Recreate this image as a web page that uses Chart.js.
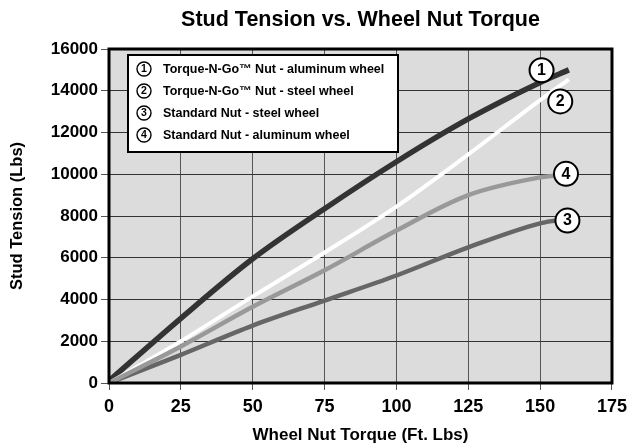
<!DOCTYPE html>
<html>
<head>
<meta charset="utf-8">
<script src="https://cdn.jsdelivr.net/npm/chart.js@4.4.1/dist/chart.umd.min.js"></script>
<style>
  html, body { margin: 0; padding: 0; background: #fff; }
</style>
</head>
<body>
<canvas id="myChart" width="633" height="446"></canvas>
<script>
// torque values (Ft. Lbs)
const torqueLong = [0, 25, 50, 75, 100, 125, 150, 160];
const torqueShort = [0, 25, 50, 75, 100, 125, 150, 156];

// stud tension (Lbs)
const tngAluminum = [100, 3100, 5950, 8350, 10600, 12650, 14400, 15000];
const tngSteel = [0, 2000, 4150, 6250, 8450, 10950, 13550, 14550];
const stdSteel = [0, 1350, 2750, 3950, 5150, 6500, 7650, 7800];
const stdAluminum = [0, 1750, 3650, 5400, 7300, 9000, 9850, 9950];

const chartTitle = "Stud Tension vs. Wheel Nut Torque";
const seriesNames = [
  "Torque-N-Go™ Nut - aluminum wheel",
  "Torque-N-Go™ Nut - steel wheel",
  "Standard Nut - steel wheel",
  "Standard Nut - aluminum wheel",
];

// circled number tags next to the curve ends (data units)
const tagNumbers = ["1", "2", "3", "4"];
const tagTorque = [150.5, 157, 159.5, 159];
const tagTension = [14980, 13490, 7780, 10020];

const FONT = "'Liberation Sans', Arial, Helvetica, sans-serif";

function toPoints(xs, ys) {
  return xs.map((x, i) => ({ x, y: ys[i] }));
}

function drawCircled(ctx, x, y, r, text, fontSize, lw) {
  ctx.beginPath();
  ctx.arc(x, y, r, 0, Math.PI * 2);
  ctx.fillStyle = "#fff";
  ctx.fill();
  ctx.lineWidth = lw;
  ctx.strokeStyle = "#000";
  ctx.stroke();
  ctx.fillStyle = "#000";
  ctx.font = `bold ${fontSize}px ${FONT}`;
  ctx.textAlign = "center";
  ctx.textBaseline = "middle";
  ctx.fillText(text, x, y + 0.5);
}

// plot background, frame, title, legend box and circled tags
const decorPlugin = {
  id: "decor",
  beforeDraw(chart) {
    const { ctx, chartArea: a } = chart;
    ctx.save();
    ctx.fillStyle = "#dcdcdd";
    ctx.fillRect(a.left, a.top, a.right - a.left, a.bottom - a.top);
    // title centred over the plot area
    ctx.fillStyle = "#000";
    ctx.font = `bold 21.5px ${FONT}`;
    ctx.textAlign = "center";
    ctx.textBaseline = "middle";
    ctx.fillText(chartTitle, (a.left + a.right) / 2, 20);
    ctx.restore();
  },
  afterDatasetsDraw(chart) {
    const { ctx, chartArea: a, scales } = chart;
    ctx.save();
    // frame
    ctx.lineWidth = 3;
    ctx.strokeStyle = "#000";
    ctx.strokeRect(a.left, a.top, a.right - a.left, a.bottom - a.top);

    // tags at curve ends
    tagNumbers.forEach((n, i) => {
      const px = scales.x.getPixelForValue(tagTorque[i]);
      const py = scales.y.getPixelForValue(tagTension[i]);
      drawCircled(ctx, px, py, 12, n, 16, 2);
    });

    // legend box
    const bx = a.left + 19;
    const by = a.top + 6;
    const bw = 270;
    const bh = 97;
    ctx.fillStyle = "#fff";
    ctx.fillRect(bx, by, bw, bh);
    ctx.lineWidth = 2;
    ctx.strokeStyle = "#000";
    ctx.strokeRect(bx, by, bw, bh);
    seriesNames.forEach((name, i) => {
      const ry = by + 14 + i * 22;
      drawCircled(ctx, bx + 16, ry, 7, String(i + 1), 10.5, 1.4);
      ctx.fillStyle = "#000";
      ctx.font = `bold 12.5px ${FONT}`;
      ctx.textAlign = "left";
      ctx.textBaseline = "middle";
      ctx.fillText(name, bx + 35, ry + 0.5);
    });
    ctx.restore();
  },
};

function initChart() {
  const ctx = document.getElementById("myChart").getContext("2d");

  return new Chart(ctx, {
    type: "line",
    data: {
      datasets: [
        {
          label: seriesNames[3],
          data: toPoints(torqueShort, stdAluminum),
          borderColor: "#999999",
          borderWidth: 4.5,
        },
        {
          label: seriesNames[2],
          data: toPoints(torqueShort, stdSteel),
          borderColor: "#666666",
          borderWidth: 4.5,
        },
        {
          label: seriesNames[1],
          data: toPoints(torqueLong, tngSteel),
          borderColor: "#ffffff",
          borderWidth: 4,
        },
        {
          label: seriesNames[0],
          data: toPoints(torqueLong, tngAluminum),
          borderColor: "#333333",
          borderWidth: 5.5,
        },
      ],
    },
    options: {
      responsive: false,
      animation: false,
      parsing: false,
      elements: {
        point: { radius: 0 },
        line: { cubicInterpolationMode: "monotone", borderCapStyle: "butt" },
      },
      layout: { padding: { top: 49, right: 19, bottom: 0, left: 0 } },
      plugins: {
        legend: { display: false },
        tooltip: { enabled: false },
      },
      scales: {
        x: {
          type: "linear",
          min: 0,
          max: 175,
          ticks: {
            stepSize: 25,
            color: "#000",
            font: { family: FONT, size: 18, weight: "bold" },
            padding: 6,
            callback: (v) => String(v),
          },
          grid: { color: "#555", lineWidth: 1, tickLength: 7, tickColor: "#555" },
          border: { display: false },
          title: {
            display: true,
            text: "Wheel Nut Torque (Ft. Lbs)",
            color: "#000",
            font: { family: FONT, size: 17, weight: "bold" },
            padding: { top: 0, bottom: 0 },
          },
          afterFit(scale) {
            scale.height = 63;
          },
        },
        y: {
          min: 0,
          max: 16000,
          ticks: {
            stepSize: 2000,
            color: "#000",
            font: { family: FONT, size: 17, weight: "bold" },
            padding: 3,
            callback: (v) => String(v),
          },
          grid: { color: "#333", lineWidth: 1, tickLength: 8, tickColor: "#555" },
          border: { display: false },
          title: {
            display: true,
            text: "Stud Tension (Lbs)",
            color: "#000",
            font: { family: FONT, size: 16.5, weight: "bold" },
            padding: { top: 8, bottom: 0 },
          },
          afterFit(scale) {
            scale.width = 109;
          },
        },
      },
    },
    plugins: [decorPlugin],
  });
}

initChart();
</script>
</body>
</html>
